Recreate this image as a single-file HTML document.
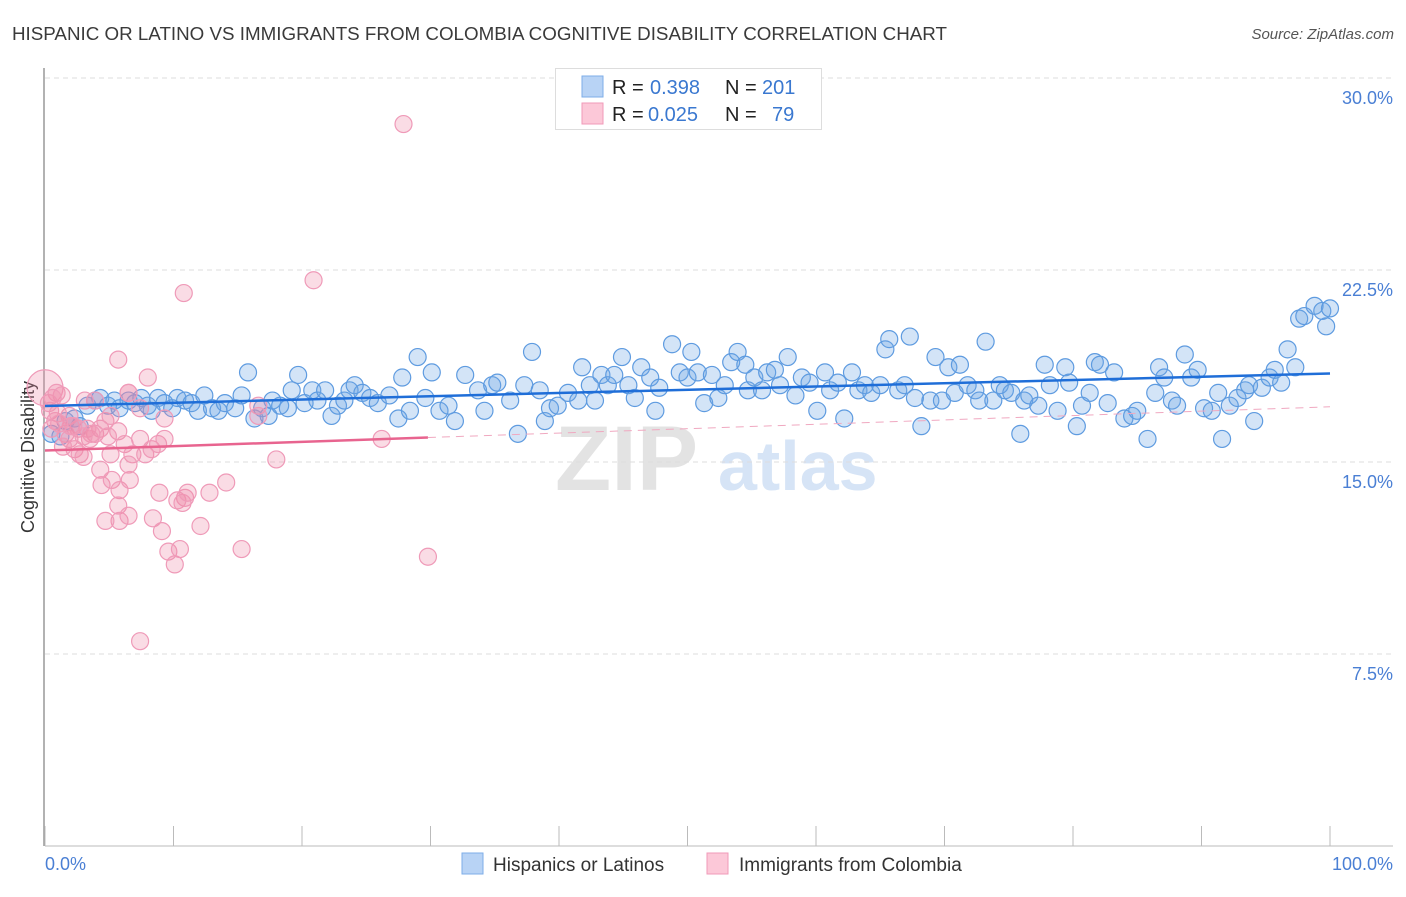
<!DOCTYPE html>
<html><head><meta charset="utf-8"><style>
body{margin:0;background:#fff;font-family:"Liberation Sans",sans-serif;}
svg text{font-family:"Liberation Sans",sans-serif;}
</style></head><body>
<svg id="chart" width="1406" height="892" xmlns="http://www.w3.org/2000/svg">
<text x="12" y="40" font-size="18.3" fill="#3a3a3a" textLength="935" lengthAdjust="spacingAndGlyphs">HISPANIC OR LATINO VS IMMIGRANTS FROM COLOMBIA COGNITIVE DISABILITY CORRELATION CHART</text>
<text x="1394" y="39" font-size="15" fill="#555" text-anchor="end" font-style="italic">Source: ZipAtlas.com</text>
<text transform="translate(34,457) rotate(-90)" font-size="18" fill="#333" text-anchor="middle">Cognitive Disability</text>
<g>
<text x="555" y="490" font-size="92" fill="#e3e3e3" font-family="Liberation Serif" font-weight="bold">ZIP</text>
<text x="718" y="490" font-size="70" fill="#d6e4f6" font-weight="bold">atlas</text>
</g>
<g id="grid"></g><g id="axes"></g><g id="marks"></g>
<g>
<rect x="555.5" y="68.5" width="266" height="61" fill="#fff" stroke="#ddd"/>
<rect x="582" y="76" width="21" height="21" fill="#b8d3f5" stroke="#7eaee8"/>
<rect x="582" y="103" width="21" height="21" fill="#fcc8d8" stroke="#f09ab8"/>
<text x="612" y="94" font-size="20" fill="#222">R =</text>
<text x="650" y="94" font-size="20" fill="#3a78d0">0.398</text>
<text x="725" y="94" font-size="20" fill="#222">N =</text>
<text x="762" y="94" font-size="20" fill="#3a78d0">201</text>
<text x="612" y="121" font-size="20" fill="#222">R =</text>
<text x="648" y="121" font-size="20" fill="#3a78d0">0.025</text>
<text x="725" y="121" font-size="20" fill="#222">N =</text>
<text x="772" y="121" font-size="20" fill="#3a78d0">79</text>
</g>
<g>
<rect x="462" y="853" width="21" height="21" fill="#b8d3f5" stroke="#7eaee8"/>
<text x="493" y="871" font-size="19" fill="#333">Hispanics or Latinos</text>
<rect x="707" y="853" width="21" height="21" fill="#fcc8d8" stroke="#f09ab8"/>
<text x="739" y="871" font-size="19" fill="#333">Immigrants from Colombia</text>
</g>
</svg>
<script>
const yTicks=[7.5,15,22.5,30];
const yTickLabels=["7.5%","15.0%","22.5%","30.0%"];
const xTickLabels=["0.0%","100.0%"];
const blueX=[0.5,1.2,1.6,2.3,2.7,3.3,3.9,4.3,4.9,5.4,5.8,6.5,7.0,7.5,8.0,8.3,8.8,9.3,9.9,10.3,10.9,11.4,11.9,12.4,13.0,13.5,14.0,14.8,15.3,15.8,16.3,16.9,17.4,17.7,18.3,18.9,19.2,19.7,20.2,20.8,21.2,21.8,22.3,22.8,23.3,23.7,24.1,24.7,25.3,25.9,26.8,27.5,27.8,28.4,29.0,29.6,30.1,30.7,31.4,31.9,32.7,33.7,34.2,34.8,35.2,36.2,36.8,37.3,37.9,38.5,38.9,39.3,39.9,40.7,41.5,41.8,42.4,42.8,43.3,43.8,44.3,44.9,45.4,45.9,46.4,47.1,47.5,47.8,48.8,49.4,50.0,50.3,50.8,51.3,51.9,52.4,52.9,53.4,53.9,54.5,54.7,55.2,55.8,56.2,56.8,57.2,57.8,58.4,58.9,59.5,60.1,60.7,61.1,61.7,62.2,62.8,63.3,63.8,64.3,65.0,65.4,65.7,66.4,66.9,67.3,67.7,68.2,68.9,69.3,69.8,70.3,70.8,71.2,71.8,72.4,72.7,73.2,73.8,74.3,74.7,75.2,75.9,76.2,76.6,77.3,77.8,78.2,78.8,79.4,79.7,80.3,80.7,81.3,81.7,82.1,82.7,83.2,84.0,84.6,85.0,85.8,86.4,86.7,87.1,87.7,88.1,88.7,89.2,89.7,90.2,90.8,91.3,91.6,92.2,92.8,93.4,93.7,94.1,94.7,95.3,95.7,96.2,96.7,97.3,97.6,98.0,98.8,99.4,99.7,100.0];
const blueY=[16.1,16.0,16.6,16.7,16.4,17.2,17.4,17.5,17.2,17.4,17.1,17.4,17.3,17.5,17.2,17.0,17.5,17.3,17.1,17.5,17.4,17.3,17.0,17.6,17.1,17.0,17.3,17.1,17.6,18.5,16.7,17.1,16.8,17.4,17.2,17.1,17.8,18.4,17.3,17.8,17.4,17.8,16.8,17.2,17.4,17.8,18.0,17.7,17.5,17.3,17.6,16.7,18.3,17.0,19.1,17.5,18.5,17.0,17.2,16.6,18.4,17.8,17.0,18.0,18.1,17.4,16.1,18.0,19.3,17.8,16.6,17.1,17.2,17.7,17.4,18.7,18.0,17.4,18.4,18.0,18.4,19.1,18.0,17.5,18.7,18.3,17.0,17.9,19.6,18.5,18.3,19.3,18.5,17.3,18.4,17.5,18.0,18.9,19.3,18.8,17.8,18.3,17.8,18.5,18.6,18.0,19.1,17.6,18.3,18.1,17.0,18.5,17.8,18.1,16.7,18.5,17.8,18.0,17.7,18.0,19.4,19.8,17.8,18.0,19.9,17.5,16.4,17.4,19.1,17.4,18.7,17.7,18.8,18.0,17.8,17.4,19.7,17.4,18.0,17.8,17.7,16.1,17.4,17.6,17.2,18.8,18.0,17.0,18.7,18.1,16.4,17.2,17.7,18.9,18.8,17.3,18.5,16.7,16.8,17.0,15.9,17.7,18.7,18.3,17.4,17.2,19.2,18.3,18.6,17.1,17.0,17.7,15.9,17.2,17.5,17.8,18.0,16.6,17.9,18.3,18.6,18.1,19.4,18.7,20.6,20.7,21.1,20.9,20.3,21.0];
const pinkX=[0.9,1.3,0.4,0.8,0.5,1.6,1.9,2.3,2.7,3.0,3.9,4.3,3.5,3.3,4.7,5.1,5.7,8.0,6.5,7.4,5.1,5.7,6.2,6.8,7.4,7.8,8.3,8.8,4.3,4.4,5.2,5.8,6.5,6.6,5.7,5.8,6.5,4.7,8.4,8.9,9.1,9.6,10.1,10.5,10.9,10.3,10.7,11.1,12.1,12.8,14.1,15.3,10.8,20.9,27.9,26.2,29.8,7.4,9.3,9.3,16.6,16.6,18.0,1.9,2.6,3.9,3.1,6.5,0.3,1.0,2.0,0.6,1.4,3.6,4.9,2.2,3.0,1.1];
const pinkY=[17.7,17.6,17.0,16.6,16.3,16.1,15.9,15.5,15.3,15.2,16.1,16.3,15.9,16.3,16.6,16.8,19.0,18.3,17.7,17.1,15.3,16.2,15.7,15.3,15.9,15.3,15.5,15.7,14.7,14.1,14.3,13.9,14.9,14.3,13.3,12.7,12.9,12.7,12.8,13.8,12.3,11.5,11.0,11.6,13.6,13.5,13.4,13.8,12.5,13.8,14.2,11.6,21.6,22.1,28.2,15.9,11.3,8.0,15.9,16.7,17.2,16.8,15.1,16.8,16.3,17.4,17.4,17.7,17.3,16.9,16.4,17.5,15.6,16.1,16.0,16.4,16.0,16.5];
const pinkBig=[0,17.9];

const L=45,R=1330,T=78,B=846,YMAX=30;
const sx=v=>L+(R-L)*v/100;
const sy=v=>B-(B-T)*v/YMAX;
const NS="http://www.w3.org/2000/svg";
function mk(tag,attrs,parent){const e=document.createElementNS(NS,tag);for(const k in attrs)e.setAttribute(k,attrs[k]);parent.appendChild(e);return e;}
const grid=document.getElementById('grid'),axes=document.getElementById('axes'),marks=document.getElementById('marks');
yTicks.forEach((t,i)=>{
  const g=mk('line',{x1:L,x2:1393,y1:sy(t),y2:sy(t),stroke:'#ddd','stroke-dasharray':'5,4'},grid);
  
  
  const lb=mk('text',{x:1393,y:sy(t)+26,'font-size':18,fill:'#4a7fd4','text-anchor':'end'},axes);
  lb.textContent=yTickLabels[i];
  
  
});
const ya=mk('line',{x1:44,x2:44,y1:68,y2:B,stroke:'#999','stroke-width':1.5},axes);


const xa=mk('line',{x1:L,x2:1393,y1:B,y2:B,stroke:'#bbb'},axes);


for(let i=0;i<=10;i++){
  const tk=mk('line',{x1:sx(i*10),x2:sx(i*10),y1:B-20,y2:B,stroke:'#bbb'},axes);
  
  
}
const x0=mk('text',{x:L,y:870,'font-size':18,fill:'#4a7fd4'},axes);x0.textContent=xTickLabels[0];


const x1=mk('text',{x:1393,y:870,'font-size':18,fill:'#4a7fd4','text-anchor':'end'},axes);x1.textContent=xTickLabels[1];



function reg(xs,ys){const n=xs.length;let mx=0,my=0;for(let i=0;i<n;i++){mx+=xs[i];my+=ys[i];}mx/=n;my/=n;let sxy=0,sxx=0;for(let i=0;i<n;i++){sxy+=(xs[i]-mx)*(ys[i]-my);sxx+=(xs[i]-mx)**2;}const b=sxy/sxx;return [my-b*mx,b];}

blueX.forEach((x,i)=>{
  const c=mk('circle',{cx:sx(x),cy:sy(blueY[i]),r:8.5,fill:'rgba(110,165,230,0.3)',stroke:'#5e9be0','stroke-width':1.2},marks);
  
  
});
const pb=mk('circle',{cx:sx(pinkBig[0]),cy:sy(pinkBig[1]),r:18,fill:'rgba(240,140,170,0.3)',stroke:'#ef9ab8','stroke-width':1.2},marks);


pinkX.forEach((x,i)=>{
  const c=mk('circle',{cx:sx(x),cy:sy(pinkY[i]),r:8.5,fill:'rgba(240,140,170,0.3)',stroke:'#ef9ab8','stroke-width':1.2},marks);
  
  
});
const [ba,bb]=reg(blueX,blueY);
const bl=mk('line',{x1:sx(0),y1:sy(ba),x2:sx(100),y2:sy(ba+bb*100),stroke:'#1f6ed8','stroke-width':2.5},marks);


const [pa,pbb]=reg(pinkX,pinkY);
const pxMax=Math.max(...pinkX);
const pl=mk('line',{x1:sx(0),y1:sy(pa),x2:sx(pxMax),y2:sy(pa+pbb*pxMax),stroke:'#e8648f','stroke-width':2.5},marks);


const pd=mk('line',{x1:sx(pxMax),y1:sy(pa+pbb*pxMax),x2:sx(100),y2:sy(pa+pbb*100),stroke:'#f0a8c0','stroke-width':1,'stroke-dasharray':'8,6'},marks);


</script>
</body></html>
